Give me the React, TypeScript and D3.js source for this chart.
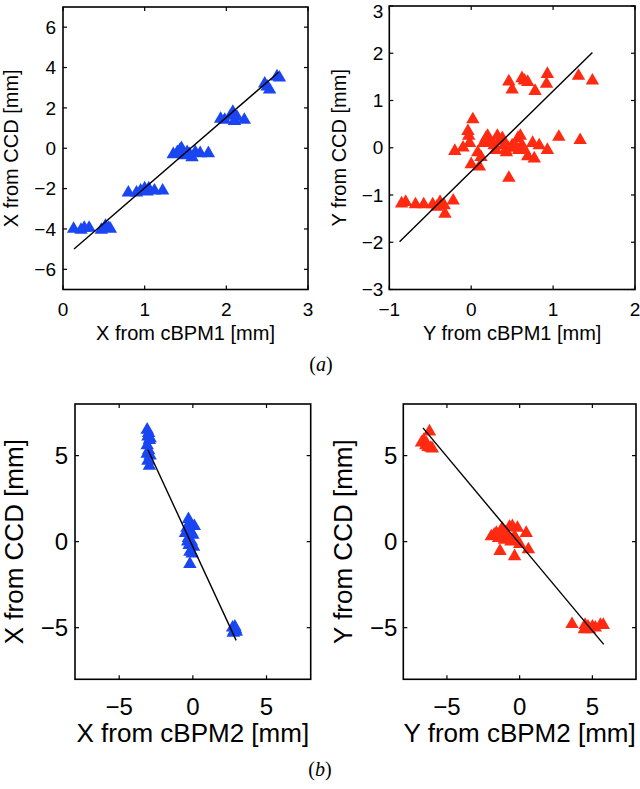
import React from "react";
import * as d3 from "d3";

// ---------- data ----------
const xA = [0.13, 0.22, 0.26, 0.32, 0.47, 0.52, 0.56, 0.58, 0.8, 0.9, 0.95, 1.0, 1.03, 1.05, 1.12, 1.22, 1.35, 1.4, 1.43, 1.45, 1.48, 1.52, 1.55, 1.58, 1.62, 1.68, 1.78, 1.93, 1.98, 2.05, 2.08, 2.1, 2.13, 2.22, 2.47, 2.5, 2.53, 2.62, 2.65];
const yA = [-4.0, -4.05, -3.95, -3.95, -4.05, -3.85, -3.95, -4.0, -2.2, -2.2, -2.1, -2.0, -2.15, -2.0, -2.1, -2.1, -0.3, -0.2, -0.1, 0.0, -0.35, -0.2, -0.3, -0.45, -0.2, -0.25, -0.25, 1.45, 1.4, 1.6, 1.8, 1.35, 1.55, 1.4, 3.2, 3.05, 2.9, 3.55, 3.5];

const xB = [-0.85, -0.8, -0.68, -0.58, -0.47, -0.42, -0.38, -0.33, -0.32, -0.22,
  -0.2, -0.1, -0.04, -0.03, -0.02, 0.02, 0.0, 0.08, 0.1, 0.12, 0.15, 0.18, 0.2, 0.22, 0.25, 0.28, 0.3, 0.32, 0.35, 0.38, 0.4, 0.42, 0.43, 0.45, 0.46, 0.5, 0.55, 0.57, 0.58, 0.6, 0.62, 0.65, 0.69, 0.75, 0.77, 0.83, 0.93, 1.07, 1.33,
  0.46, 0.5, 0.62, 0.65, 0.69, 0.78, 0.93, 0.92, 1.31, 1.48];
const yB = [-1.18, -1.15, -1.2, -1.2, -1.2, -1.25, -1.15, -1.22, -1.4, -1.12,
  -0.07, 0.0, 0.35, 0.25, 0.1, 0.6, -0.35, -0.1, -0.4, -0.2, 0.1, 0.2, 0.25, 0.15, 0.1, 0.05, -0.05, 0.25, 0.15, 0.2, 0.05, -0.05, -0.1, 0.0, -0.64, 0.05, 0.0, 0.2, -0.05, 0.25, 0.05, -0.05, -0.18, 0.1, -0.23, 0.05, -0.05, 0.23, 0.16,
  1.4, 1.23, 1.47, 1.42, 1.39, 1.2, 1.56, 1.35, 1.52, 1.42];

const xC = [-3.1, -3.0, -3.05, -2.95, -3.1, -3.0, -2.9, -3.05, -2.95, -3.1, -2.9,
  -0.3, -0.2, -0.4, -0.15, -0.5, 0.0, -0.3, -0.1, -0.25, 0.05, -0.2, -0.05, -0.2, 0.1, -0.35,
  2.7, 2.8, 2.9, 2.75, 2.85, 2.95];
const yC = [6.5, 6.3, 6.1, 5.9, 5.6, 5.3, 5.0, 4.7, 4.4, 5.1, 6.0,
  1.3, 1.1, 0.8, 0.6, 0.5, 0.4, 0.2, 0.0, -0.2, -0.3, -0.6, -0.7, -1.3, 0.9, 0.0,
  -5.0, -5.2, -5.1, -5.3, -4.95, -5.25];

const xD = [-6.75, -6.6, -6.45, -6.3, -6.2, -6.1, -6.0, -6.4,
  -1.95, -1.75, -1.6, -1.45, -1.3, -1.2, -1.05, -0.9, -0.8, -0.7, -0.6, -0.5, -0.35, -0.15, 0.0, 0.45, 0.6, -1.35, -0.35, -1.0, -0.2,
  3.6, 4.5, 4.6, 4.7, 4.8, 5.0, 5.2, 5.55, 5.75, 4.45];
const yD = [5.75, 5.9, 5.6, 5.5, 6.4, 5.45, 5.4, 5.7,
  0.3, 0.4, 0.5, 0.2, 0.6, 0.75, 0.1, 0.35, 0.2, 0.85, 0.0, 0.9, 0.3, 0.8, -0.15, 0.5, -0.45, -0.55, -0.85, 0.55, 0.05,
  -4.8, -4.85, -5.05, -4.95, -5.1, -4.95, -5.0, -4.85, -4.85, -5.1];

// fits: [slope, intercept, xStart, xEnd]
const fitA = [3.5, -5.47, 0.135, 2.64];
const fitB = [1.7, -0.5, -0.875, 1.48];
const fitC = [-1.85, -0.3, -3.05, 2.94];
const fitD = [-1.012, -0.12, -6.65, 5.78];

const ticksA_x = [0, 1, 2, 3];
const ticksA_y = [-6, -4, -2, 0, 2, 4, 6];
const ticksB_x = [-1, 0, 1, 2];
const ticksB_y = [-3, -2, -1, 0, 1, 2, 3];
const ticksC = [-5, 0, 5];

const BLUE = "#1a46f2";
const RED = "#ff2a12";
const FONT = "'Liberation Sans', Arial, Helvetica, sans-serif";

type PanelProps = {
  box: [number, number, number, number]; // left, right, top, bottom
  xDom: [number, number];
  yDom: [number, number];
  xs: number[];
  ys: number[];
  fit: number[];
  xTicks: number[];
  yTicks: number[];
  color: string;
  xLabel: string;
  yLabel: string;
  tickFont: number;
  labelFont: number;
  xTickBase: number;
  xLabelBase: number;
  yLabelX: number;
  yTickGap: number;
};

const fmt = (v: number) => (v < 0 ? "\u2212" + Math.abs(v) : String(v));

function Panel(p: PanelProps) {
  const [l, r, t, b] = p.box;
  const x = d3.scaleLinear().domain(p.xDom).range([l, r]);
  const y = d3.scaleLinear().domain(p.yDom).range([b, t]);
  const tri = d3.symbol().type(d3.symbolTriangle).size(78)();
  const line = d3.line<number>().x((v) => x(v)).y((v) => y(p.fit[0] * v + p.fit[1]));
  const tl = 4;
  const minBase = p.tickFont * 0.93;
  return (
    <g>
      {p.xs.map((xv, i) => (
        <path key={i} d={tri || ""} transform={`translate(${x(xv)},${y(p.ys[i])})`} fill={p.color} />
      ))}
      <path d={line([p.fit[2], p.fit[3]]) || ""} stroke="#000" strokeWidth={1.4} fill="none" />
      <rect x={l} y={t} width={r - l} height={b - t} fill="none" stroke="#000" strokeWidth={1.6} />
      {p.xTicks.map((v) => (
        <g key={"xt" + v}>
          <line x1={x(v)} x2={x(v)} y1={b} y2={b - tl} stroke="#000" strokeWidth={1.2} />
          <line x1={x(v)} x2={x(v)} y1={t} y2={t + tl} stroke="#000" strokeWidth={1.2} />
          <text x={x(v)} y={p.xTickBase} textAnchor="middle" fontSize={p.tickFont} fontFamily={FONT}>
            {fmt(v)}
          </text>
        </g>
      ))}
      {p.yTicks.map((v) => (
        <g key={"yt" + v}>
          <line x1={l} x2={l + tl} y1={y(v)} y2={y(v)} stroke="#000" strokeWidth={1.2} />
          <line x1={r} x2={r - tl} y1={y(v)} y2={y(v)} stroke="#000" strokeWidth={1.2} />
          <text x={l - p.yTickGap} y={Math.max(y(v) + p.tickFont * 0.35, minBase)} textAnchor="end" fontSize={p.tickFont} fontFamily={FONT}>
            {fmt(v)}
          </text>
        </g>
      ))}
      <text x={(l + r) / 2} y={p.xLabelBase} textAnchor="middle" fontSize={p.labelFont} fontFamily={FONT}>
        {p.xLabel}
      </text>
      <text
        transform={`translate(${p.yLabelX},${(t + b) / 2}) rotate(-90)`}
        textAnchor="middle"
        fontSize={p.labelFont}
        fontFamily={FONT}
      >
        {p.yLabel}
      </text>
    </g>
  );
}

export default function App() {
  return (
    <div style={{ position: "absolute", left: 0, top: 0 }}>
      <svg width={640} height={789} style={{ display: "block", background: "#fff" }}>
        <Panel box={[63, 308, 7, 289.5]} xDom={[0, 3]} yDom={[-7, 7]} xs={xA} ys={yA} fit={fitA}
          xTicks={ticksA_x} yTicks={ticksA_y} color={BLUE} xLabel="X from cBPM1 [mm]" yLabel="X from CCD [mm]"
          tickFont={19} labelFont={20} xTickBase={316} xLabelBase={340} yLabelX={18} yTickGap={7} />
        <Panel box={[389.3, 635, 6, 289.5]} xDom={[-1, 2]} yDom={[-3, 3]} xs={xB} ys={yB} fit={fitB}
          xTicks={ticksB_x} yTicks={ticksB_y} color={RED} xLabel="Y from cBPM1 [mm]" yLabel="Y from CCD [mm]"
          tickFont={19} labelFont={20} xTickBase={316} xLabelBase={340} yLabelX={346} yTickGap={6} />
        <Panel box={[75, 310.7, 404, 679.3]} xDom={[-8, 8]} yDom={[-8, 8]} xs={xC} ys={yC} fit={fitC}
          xTicks={ticksC} yTicks={ticksC} color={BLUE} xLabel="X from cBPM2 [mm]" yLabel="X from CCD [mm]"
          tickFont={24} labelFont={26} xTickBase={715} xLabelBase={742} yLabelX={23} yTickGap={7} />
        <Panel box={[403.3, 636, 404, 679.3]} xDom={[-8, 8]} yDom={[-8, 8]} xs={xD} ys={yD} fit={fitD}
          xTicks={ticksC} yTicks={ticksC} color={RED} xLabel="Y from cBPM2 [mm]" yLabel="Y from CCD [mm]"
          tickFont={24} labelFont={26} xTickBase={715} xLabelBase={742} yLabelX={352} yTickGap={6} />
        <text x={321} y={371} textAnchor="middle" fontSize={20} fontFamily="'Liberation Serif', 'Times New Roman', serif">
          (<tspan fontStyle="italic">a</tspan>)
        </text>
        <text x={320} y={776} textAnchor="middle" fontSize={20} fontFamily="'Liberation Serif', 'Times New Roman', serif">
          (<tspan fontStyle="italic">b</tspan>)
        </text>
      </svg>
    </div>
  );
}
